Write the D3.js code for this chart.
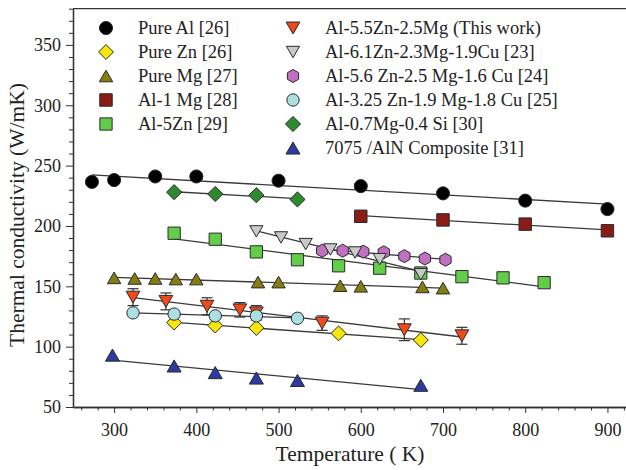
<!DOCTYPE html>
<html>
<head>
<meta charset="utf-8">
<script src="https://cdn.jsdelivr.net/npm/d3@7"></script>
<style>
	body { margin: 0; background: #fff; }
	svg { display: block; }
	text { font-family: 'Liberation Serif', 'Times New Roman', serif; fill: #222; }
</style>
</head>
<body>
<div id="vis"></div>
<script>
// temperatures (K) and thermal conductivity (W/mK) for each alloy
var pureAlT = [273, 300, 350, 400, 500, 600, 700, 800, 900],
	pureAlK = [236.5, 238, 241, 241, 237.5, 233, 227, 221, 214];
var pureZnT = [373, 423, 473, 573, 673],
	pureZnK = [120, 117.5, 115.5, 111, 105.5];
var pureMgT = [300, 325, 350, 375, 400, 475, 500, 575, 600, 675, 700],
	pureMgK = [157, 156.5, 156.5, 156, 156, 153.5, 153.5, 150.5, 150, 149.5, 148.5];
var al1MgT = [600, 700, 800, 900],
	al1MgK = [208, 205, 201.5, 196];
var al5ZnT = [373, 423, 473, 523, 573, 623, 673, 723, 773, 823],
	al5ZnK = [194, 189, 178.5, 172, 167, 165, 161, 158, 157, 153];
var thisWorkT = [323, 363, 413, 453, 473, 553, 653, 723],
	thisWorkK = [141, 137.5, 133.5, 130.5, 128, 119.5, 114, 109],
	thisWorkErr = [7, 7, 7, 6, 6, 6, 9, 7];
var al61T = [473, 503, 533, 563, 593, 623, 673],
	al61K = [195.5, 190.5, 185, 180.5, 178, 172.5, 160];
var al56T = [553, 578, 603, 628, 653, 678, 703],
	al56K = [179.5, 179.5, 178.7, 178.2, 175, 173, 172];
var al325T = [323, 373, 423, 473, 523],
	al325K = [128, 127, 125.5, 125.5, 123.5];
var al07T = [373, 423, 473, 523],
	al07K = [228, 226.5, 225.5, 222];
var compT = [298, 373, 423, 473, 523, 673],
	compK = [93, 84, 78.5, 74, 72, 68];

var xTicks = [300, 400, 500, 600, 700, 800, 900],
	yTicks = [50, 100, 150, 200, 250, 300, 350];

var width = 626,
	height = 470;

// custom symbols, centred on their bounding box
var diamond = { draw: function(ctx, size) {
	var d = Math.sqrt(size / 2);
	ctx.moveTo(0, -d); ctx.lineTo(d, 0); ctx.lineTo(0, d); ctx.lineTo(-d, 0); ctx.closePath();
} };
var triUp = { draw: function(ctx, size) {
	var s = Math.sqrt(4 * size / Math.sqrt(3)), h = s * Math.sqrt(3) / 2;
	ctx.moveTo(0, -h / 2); ctx.lineTo(s / 2, h / 2); ctx.lineTo(-s / 2, h / 2); ctx.closePath();
} };
var triDown = { draw: function(ctx, size) {
	var s = Math.sqrt(4 * size / Math.sqrt(3)), h = s * Math.sqrt(3) / 2;
	ctx.moveTo(0, h / 2); ctx.lineTo(-s / 2, -h / 2); ctx.lineTo(s / 2, -h / 2); ctx.closePath();
} };
var hexagon = { draw: function(ctx, size) {
	var r = Math.sqrt(size / (3 * Math.sqrt(3) / 2));
	for (var i = 0; i < 6; i++) {
		var a = (-90 + 60 * i) * Math.PI / 180;
		if (i == 0) ctx.moveTo(r * Math.cos(a), r * Math.sin(a));
		else ctx.lineTo(r * Math.cos(a), r * Math.sin(a));
	}
	ctx.closePath();
} };

var series = [
	{ name: 'Pure Al [26]', t: pureAlT, k: pureAlK, type: d3.symbolCircle, size: 135, fill: '#000', col: 0, row: 0 },
	{ name: 'Pure Zn [26]', t: pureZnT, k: pureZnK, type: diamond, size: 112, fill: '#f7e60c', col: 0, row: 1 },
	{ name: 'Pure Mg [27]', t: pureMgT, k: pureMgK, type: triUp, size: 78, fill: '#857c12', col: 0, row: 2 },
	{ name: 'Al-1 Mg [28]', t: al1MgT, k: al1MgK, type: d3.symbolSquare, size: 155, fill: '#8a1c16', col: 0, row: 3 },
	{ name: 'Al-5Zn [29]', t: al5ZnT, k: al5ZnK, type: d3.symbolSquare, size: 150, fill: '#62cd48', col: 0, row: 4 },
	{ name: 'Al-5.5Zn-2.5Mg (This work)', t: thisWorkT, k: thisWorkK, err: thisWorkErr, type: triDown, size: 82, fill: '#ef4a1c', col: 1, row: 0 },
	{ name: 'Al-5.6 Zn-2.5 Mg-1.6 Cu [24]', t: al56T, k: al56K, type: hexagon, size: 110, fill: '#c070c0', col: 1, row: 2 },
	{ name: 'Al-6.1Zn-2.3Mg-1.9Cu [23]', t: al61T, k: al61K, type: triDown, size: 75, fill: '#c9c9c9', col: 1, row: 1 },
	{ name: 'Al-3.25 Zn-1.9 Mg-1.8 Cu [25]', t: al325T, k: al325K, type: d3.symbolCircle, size: 120, fill: '#abdfe2', col: 1, row: 3 },
	{ name: 'Al-0.7Mg-0.4 Si [30]', t: al07T, k: al07K, type: diamond, size: 115, fill: '#2f8a2e', col: 1, row: 4 },
	{ name: '7075 /AlN Composite [31]', t: compT, k: compK, type: triUp, size: 85, fill: '#2d3aa2', col: 1, row: 5 }
];

var svg = d3.select('#vis')
	.append('svg')
	.attr('width', width)
	.attr('height', height);

var xScale = d3.scaleLinear().domain([250, 925]).range([73, 628]);
var yScale = d3.scaleLinear().domain([50, 380]).range([407, 8.7]);

// minor ticks
var xMinor = d3.range(260, 925, 20).filter(function(d) { return d % 100 != 0; });
var yMinor = d3.range(60, 381, 10).filter(function(d) { return d % 50 != 0; });

svg.append('g')
	.attr('transform', 'translate(0,' + yScale(50) + ')')
	.call(d3.axisBottom(xScale).tickValues(xMinor).tickSize(3.5).tickSizeOuter(0).tickFormat(''));
svg.append('g')
	.attr('transform', 'translate(' + xScale(250) + ',0)')
	.call(d3.axisLeft(yScale).tickValues(yMinor).tickSize(4).tickSizeOuter(0).tickFormat(''));

var xAxis = svg.append('g')
	.attr('transform', 'translate(0,' + yScale(50) + ')')
	.call(d3.axisBottom(xScale).tickValues(xTicks).tickSize(6).tickSizeOuter(0).tickPadding(10));
var yAxis = svg.append('g')
	.attr('transform', 'translate(' + xScale(250) + ',0)')
	.call(d3.axisLeft(yScale).tickValues(yTicks).tickSize(7).tickSizeOuter(0).tickPadding(5));

svg.selectAll('.domain').attr('stroke', '#333').attr('stroke-width', 1.3);
svg.selectAll('.tick line').attr('stroke', '#333');
xAxis.selectAll('text').attr('font-size', 18).attr('font-family', 'Liberation Serif').attr('fill', '#222');
yAxis.selectAll('text').attr('font-size', 18).attr('font-family', 'Liberation Serif').attr('fill', '#222');

// top frame line
svg.append('line')
	.attr('x1', xScale(250)).attr('x2', width)
	.attr('y1', yScale(380)).attr('y2', yScale(380))
	.attr('stroke', '#333').attr('stroke-width', 1.3);

svg.append('text')
	.attr('transform', 'translate(350,461)')
	.attr('text-anchor', 'middle')
	.attr('font-size', 21.5)
	.text('Temperature ( K)');

svg.append('text')
	.attr('transform', 'translate(24,215) rotate(-90)')
	.attr('text-anchor', 'middle')
	.attr('font-size', 21.5)
	.text('Thermal conductivity (W/mK)');

// least-squares fit line for each series
var fit = function(s) {
	var mx = d3.mean(s.t), my = d3.mean(s.k), sxy = 0, sxx = 0;
	s.t.forEach(function(t, i) { sxy += (t - mx) * (s.k[i] - my); sxx += (t - mx) * (t - mx); });
	var b = sxy / sxx, a = my - b * mx;
	var ext = d3.extent(s.t);
	return ext.map(function(t) { return [t, a + b * t]; });
};

var line = d3.line()
	.x(function(d) { return xScale(d[0]); })
	.y(function(d) { return yScale(d[1]); });

svg.append('g').selectAll('path')
	.data(series)
	.enter().append('path')
	.attr('d', function(s) { return line(fit(s)); })
	.attr('fill', 'none')
	.attr('stroke', '#3a3a3a')
	.attr('stroke-width', 1.3);

// error bars
var errS = series.filter(function(s) { return s.err; })[0];
var errData = errS.t.map(function(t, i) { return { t: t, k: errS.k[i], e: errS.err[i] }; });
var eb = svg.append('g').attr('stroke', '#333').attr('stroke-width', 1.2);
eb.selectAll('.ev').data(errData).enter().append('line')
	.attr('x1', function(d) { return xScale(d.t); }).attr('x2', function(d) { return xScale(d.t); })
	.attr('y1', function(d) { return yScale(d.k - d.e); }).attr('y2', function(d) { return yScale(d.k + d.e); });
[1, -1].forEach(function(sign) {
	eb.selectAll('.cap' + sign).data(errData).enter().append('line')
		.attr('x1', function(d) { return xScale(d.t) - 5.5; }).attr('x2', function(d) { return xScale(d.t) + 5.5; })
		.attr('y1', function(d) { return yScale(d.k + sign * d.e); }).attr('y2', function(d) { return yScale(d.k + sign * d.e); });
});

// markers
var sym = function(s) { return d3.symbol().type(s.type).size(s.size)(); };

series.forEach(function(s) {
	svg.append('g').selectAll('path')
		.data(s.t.map(function(t, i) { return [t, s.k[i]]; }))
		.enter().append('path')
		.attr('transform', function(d) { return 'translate(' + xScale(d[0]) + ',' + yScale(d[1]) + ')'; })
		.attr('d', sym(s))
		.attr('fill', s.fill)
		.attr('stroke', '#2a2a2a')
		.attr('stroke-width', 1);
});

// legend
var colX = [106, 293],
	textX = [138, 325];

var legend = svg.append('g').selectAll('g')
	.data(series)
	.enter().append('g')
	.attr('transform', function(s) { return 'translate(0,' + (28 + s.row * 24) + ')'; });

legend.append('path')
	.attr('transform', function(s) { return 'translate(' + colX[s.col] + ',0)'; })
	.attr('d', sym)
	.attr('fill', function(s) { return s.fill; })
	.attr('stroke', '#2a2a2a')
	.attr('stroke-width', 1);

legend.append('text')
	.attr('x', function(s) { return textX[s.col]; })
	.attr('y', 6)
	.attr('font-size', 18.5)
	.text(function(s) { return s.name; });
</script>
</body>
</html>
